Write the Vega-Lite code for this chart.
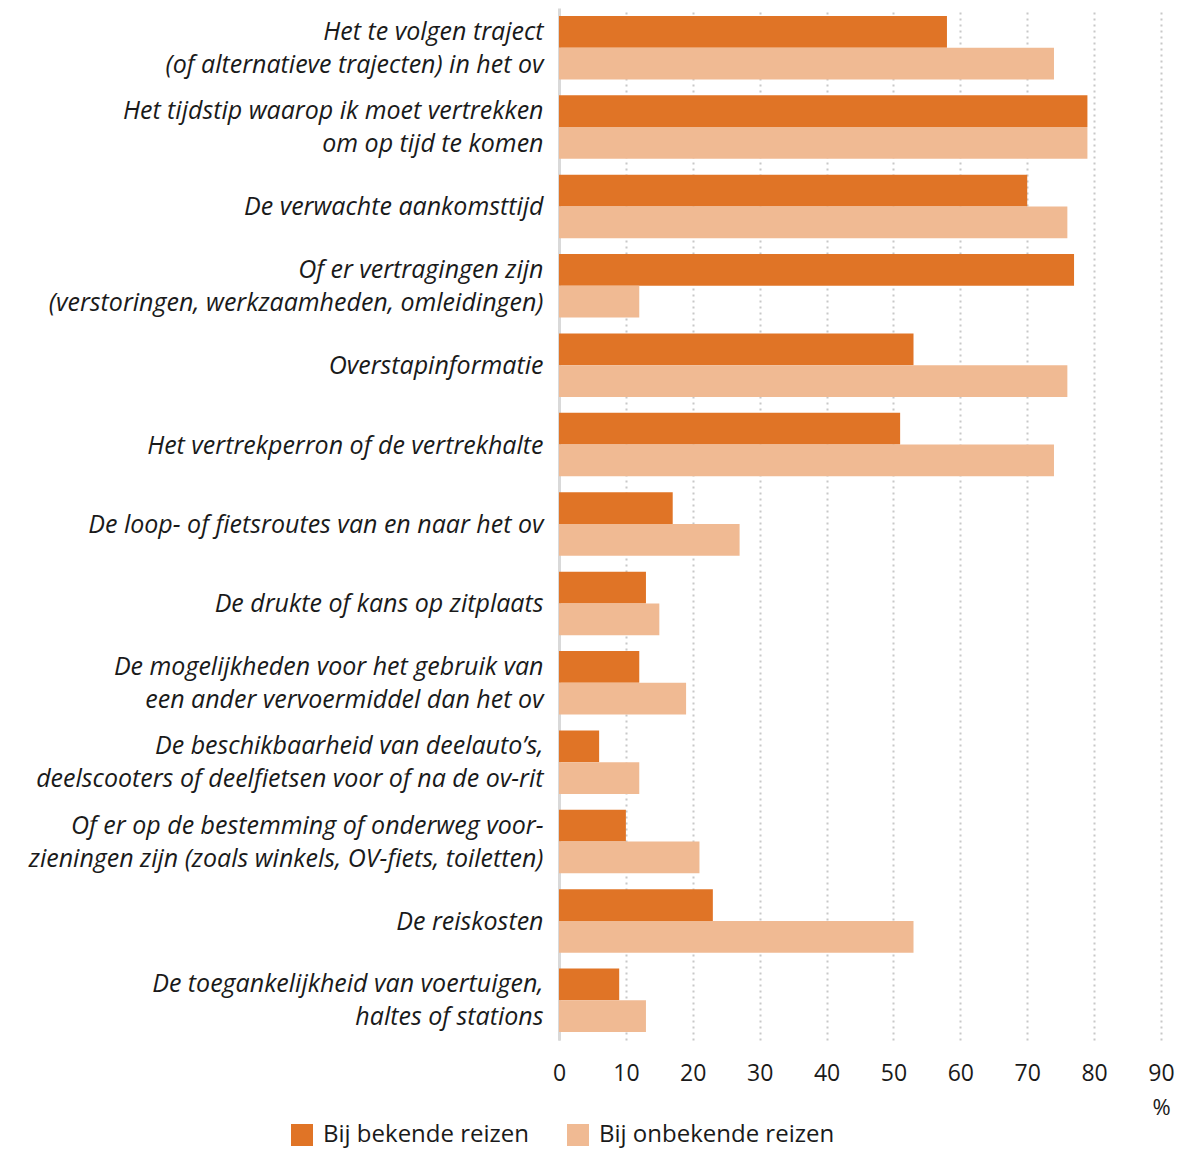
{
  "$schema": "https://vega.github.io/schema/vega-lite/v6.json",
  "width": 602,
  "height": 1032,
  "autosize": {"type": "none"},
  "padding": {"left": 559, "top": 8, "right": 18, "bottom": 110},
  "config": {
    "view": {"stroke": null},
    "font": "Open Sans",
    "text": {"color": "#1a1a1a"}
  },
  "data": {
    "values": [
      {"item": "Het te volgen traject|(of alternatieve trajecten) in het ov", "serie": "Bij bekende reizen", "pct": 58},
      {"item": "Het te volgen traject|(of alternatieve trajecten) in het ov", "serie": "Bij onbekende reizen", "pct": 74},
      {"item": "Het tijdstip waarop ik moet vertrekken|om op tijd te komen", "serie": "Bij bekende reizen", "pct": 79},
      {"item": "Het tijdstip waarop ik moet vertrekken|om op tijd te komen", "serie": "Bij onbekende reizen", "pct": 79},
      {"item": "De verwachte aankomsttijd", "serie": "Bij bekende reizen", "pct": 70},
      {"item": "De verwachte aankomsttijd", "serie": "Bij onbekende reizen", "pct": 76},
      {"item": "Of er vertragingen zijn|(verstoringen, werkzaamheden, omleidingen)", "serie": "Bij bekende reizen", "pct": 77},
      {"item": "Of er vertragingen zijn|(verstoringen, werkzaamheden, omleidingen)", "serie": "Bij onbekende reizen", "pct": 12},
      {"item": "Overstapinformatie", "serie": "Bij bekende reizen", "pct": 53},
      {"item": "Overstapinformatie", "serie": "Bij onbekende reizen", "pct": 76},
      {"item": "Het vertrekperron of de vertrekhalte", "serie": "Bij bekende reizen", "pct": 51},
      {"item": "Het vertrekperron of de vertrekhalte", "serie": "Bij onbekende reizen", "pct": 74},
      {"item": "De loop- of fietsroutes van en naar het ov", "serie": "Bij bekende reizen", "pct": 17},
      {"item": "De loop- of fietsroutes van en naar het ov", "serie": "Bij onbekende reizen", "pct": 27},
      {"item": "De drukte of kans op zitplaats", "serie": "Bij bekende reizen", "pct": 13},
      {"item": "De drukte of kans op zitplaats", "serie": "Bij onbekende reizen", "pct": 15},
      {"item": "De mogelijkheden voor het gebruik van|een ander vervoermiddel dan het ov", "serie": "Bij bekende reizen", "pct": 12},
      {"item": "De mogelijkheden voor het gebruik van|een ander vervoermiddel dan het ov", "serie": "Bij onbekende reizen", "pct": 19},
      {"item": "De beschikbaarheid van deelauto’s,|deelscooters of deelfietsen voor of na de ov-rit", "serie": "Bij bekende reizen", "pct": 6},
      {"item": "De beschikbaarheid van deelauto’s,|deelscooters of deelfietsen voor of na de ov-rit", "serie": "Bij onbekende reizen", "pct": 12},
      {"item": "Of er op de bestemming of onderweg voor-|zieningen zijn (zoals winkels, OV-fiets, toiletten)", "serie": "Bij bekende reizen", "pct": 10},
      {"item": "Of er op de bestemming of onderweg voor-|zieningen zijn (zoals winkels, OV-fiets, toiletten)", "serie": "Bij onbekende reizen", "pct": 21},
      {"item": "De reiskosten", "serie": "Bij bekende reizen", "pct": 23},
      {"item": "De reiskosten", "serie": "Bij onbekende reizen", "pct": 53},
      {"item": "De toegankelijkheid van voertuigen,|haltes of stations", "serie": "Bij bekende reizen", "pct": 9},
      {"item": "De toegankelijkheid van voertuigen,|haltes of stations", "serie": "Bij onbekende reizen", "pct": 13}
    ]
  },
  "mark": {"type": "bar"},
  "encoding": {
    "y": {
      "field": "item",
      "type": "nominal",
      "sort": null,
      "scale": {"paddingInner": 0.2, "paddingOuter": 0.1},
      "axis": {
        "title": null,
        "labelExpr": "split(datum.label, '|')",
        "labelFont": "Open Sans",
        "labelFontStyle": "italic",
        "labelFontSize": 25,
        "labelLineHeight": 33,
        "labelColor": "#1a1a1a",
        "labelPadding": 16,
        "labelLimit": 700,
        "labelOffset": {"condition": {"test": "indexof(datum.label, '|') >= 0", "value": -16}, "value": 1},
        "ticks": false,
        "tickSize": 0,
        "domainColor": "#d9d9d9",
        "domainWidth": 3
      }
    },
    "yOffset": {"field": "serie", "type": "nominal", "sort": ["Bij bekende reizen", "Bij onbekende reizen"]},
    "x": {
      "field": "pct",
      "type": "quantitative",
      "scale": {"domain": [0, 90], "nice": false},
      "axis": {
        "values": [0, 10, 20, 30, 40, 50, 60, 70, 80, 90],
        "title": "%",
        "titleFont": "Open Sans",
        "titleFontWeight": "normal",
        "titleFontSize": 22,
        "titleColor": "#1a1a1a",
        "titleAnchor": "end",
        "titleAlign": "center",
        "titleX": 602,
        "titleY": 57,
        "titleBaseline": "top",
        "labelFont": "Open Sans",
        "labelFontSize": 23,
        "labelColor": "#1a1a1a",
        "labelPadding": 22,
        "labelFlush": false,
        "ticks": false,
        "tickSize": 0,
        "domain": false,
        "grid": true,
        "gridColor": "#c8c8c8",
        "gridDash": [2, 4],
        "gridWidth": 2
      }
    },
    "color": {
      "field": "serie",
      "type": "nominal",
      "sort": ["Bij bekende reizen", "Bij onbekende reizen"],
      "scale": {"domain": ["Bij bekende reizen", "Bij onbekende reizen"], "range": ["#E07426", "#F0BA93"]},
      "legend": {
        "title": null,
        "orient": "none",
        "direction": "horizontal",
        "legendX": -269,
        "legendY": 1115,
        "symbolType": "square",
        "symbolSize": 484,
        "symbolStrokeWidth": 0,
        "labelFont": "Open Sans",
        "labelFontSize": 24,
        "labelColor": "#1a1a1a",
        "labelOffset": 9,
        "columnPadding": 36,
        "labelLimit": 400
      }
    }
  }
}
